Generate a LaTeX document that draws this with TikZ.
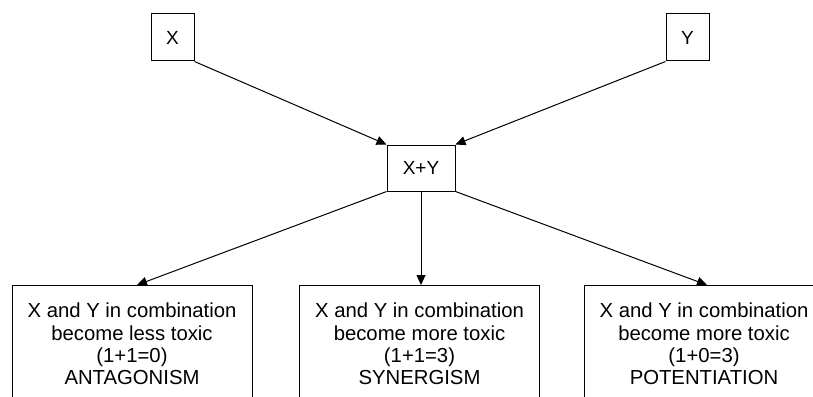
\documentclass[tikz,border=0pt]{standalone}
\usepackage{fontspec}
\setmainfont{Liberation Sans}
\usetikzlibrary{arrows.meta,calc}
\begin{document}
\begin{tikzpicture}[x=1pt,y=-1pt,
  lbl/.style={font=\fontsize{19}{22}\selectfont},
  bodytext/.style={font=\fontsize{20.3}{22.1}\selectfont},
  smallbox/.style={draw,line width=1pt,minimum width=43pt,minimum height=47pt,inner sep=0pt,lbl},
  resultbox/.style={draw,line width=1pt,minimum width=240pt,minimum height=140pt,anchor=north,inner sep=0pt},
  resulttext/.style={bodytext,align=center,anchor=north,inner sep=0pt},
  link/.style={line width=1pt,-{Triangle[length=10pt,width=9pt]}}]
\useasboundingbox (0,0) rectangle (813,396);
\clip (0,0) rectangle (813,396);

% the two agents and their combination
\node[smallbox] (x) at (172.5,37.5) {X};
\node[smallbox] (y) at (687.5,37.5) {Y};
\node[smallbox,minimum width=68pt,minimum height=46pt] (xy) at (421,168) {X+Y};

% outcome boxes (they run past the lower edge)
\node[resultbox] (ant) at (132,285) {};
\node[resultbox] (syn) at (419.5,285) {};
\node[resultbox] (pot) at (704,285) {};

\node[resulttext] (antt) at (132,303) {X and Y in combination\\become less toxic\\(1+1=0)\\ANTAGONISM};
\node[resulttext] (synt) at (419.5,303) {X and Y in combination\\become more toxic\\(1+1=3)\\SYNERGISM};
\node[resulttext] (pott) at (704,303) {X and Y in combination\\become more toxic\\(1+0=3)\\POTENTIATION};

% connectors
\draw[link] (x.south east) -- (xy.north west);
\draw[link] (y.south west) -- (xy.north east);
\draw[link] (xy.south west) -- ($(ant.north)+(5,0)$);
\draw[link] (xy.south) -- (xy.south |- syn.north);
\draw[link] (xy.south east) -- ($(pot.north)+(3,0)$);
\end{tikzpicture}
\end{document}
